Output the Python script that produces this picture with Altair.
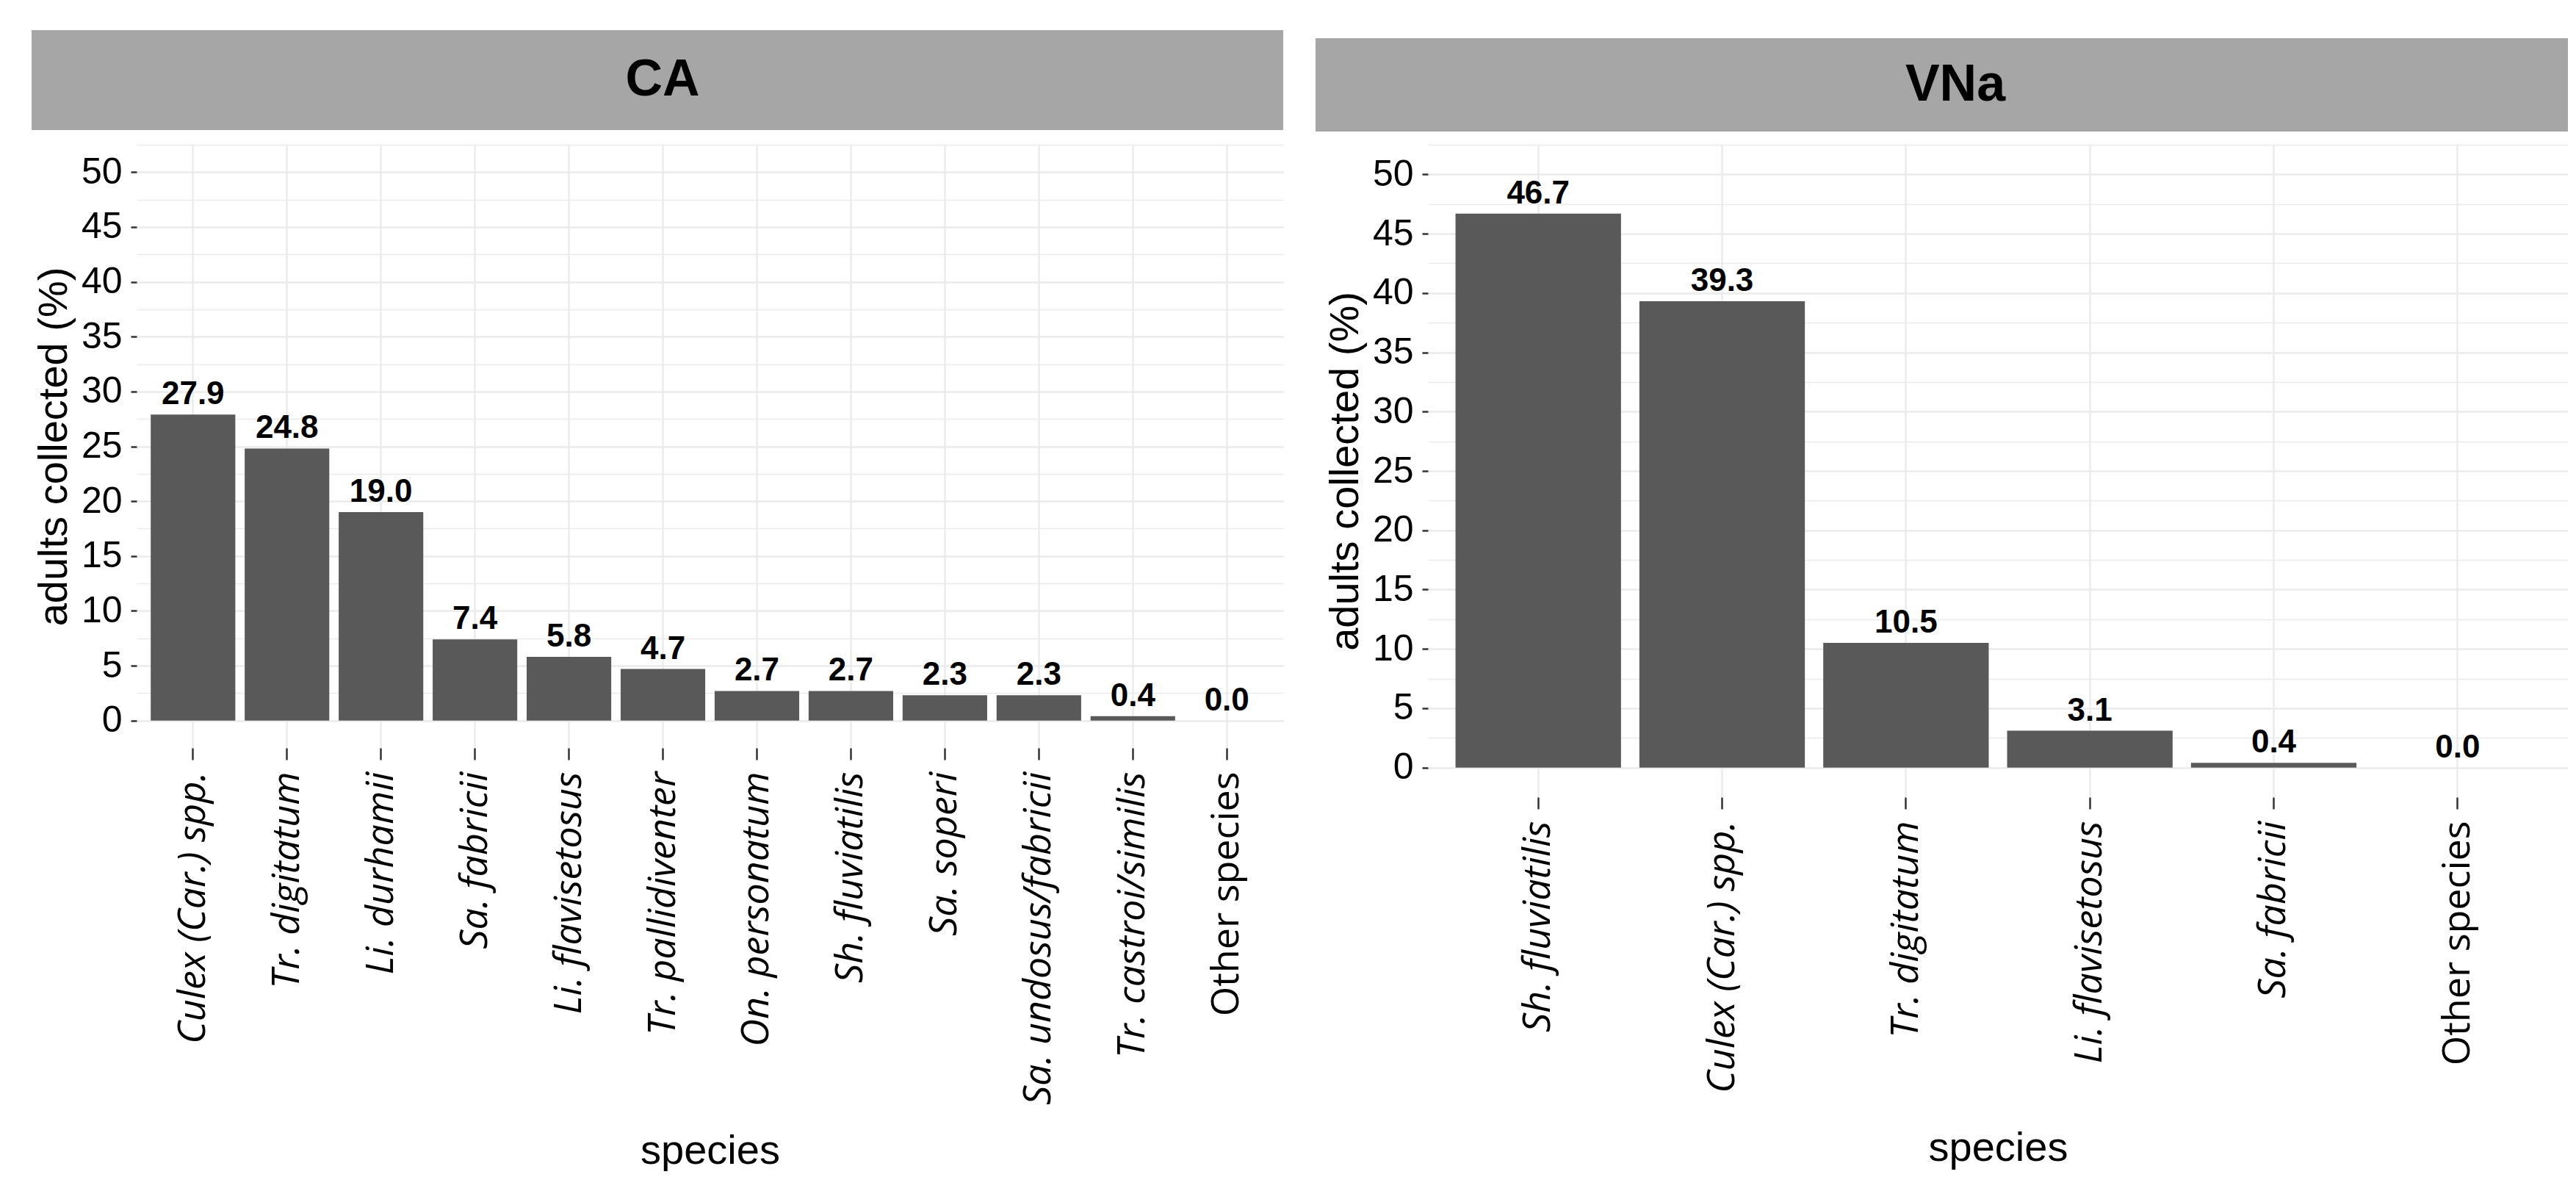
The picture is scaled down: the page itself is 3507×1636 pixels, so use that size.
import altair as alt
import pandas as pd

# ---- data ----
panel_names = ["CA", "VNa"]

ca_species = ["Culex (Car.) spp.", "Tr. digitatum", "Li. durhamii", "Sa. fabricii",
              "Li. flavisetosus", "Tr. pallidiventer", "On. personatum", "Sh. fluviatilis",
              "Sa. soperi", "Sa. undosus/fabricii", "Tr. castroi/similis", "Other species"]
ca_values = [27.9, 24.8, 19.0, 7.4, 5.8, 4.7, 2.7, 2.7, 2.3, 2.3, 0.4, 0.0]

vna_species = ["Sh. fluviatilis", "Culex (Car.) spp.", "Tr. digitatum",
               "Li. flavisetosus", "Sa. fabricii", "Other species"]
vna_values = [46.7, 39.3, 10.5, 3.1, 0.4, 0.0]

y_grid_values = [0, 2.5, 5, 7.5, 10, 12.5, 15, 17.5, 20, 22.5, 25, 27.5, 30, 32.5,
                 35, 37.5, 40, 42.5, 45, 47.5, 50, 52.5]

REGULAR = "Liberation Sans, Arial, sans-serif"
LABELF = "Open Sans, Noto Sans, sans-serif"

MAJOR = "datum.value % 5 === 0"


def panel(name, species, values, width, height, hx0, hy0, hy1, hcx, hcy, title_y):
    df = pd.DataFrame({"species": species, "pct": values})
    hdr = pd.DataFrame({"panel": [name]})

    x = alt.X(
        "species:N",
        sort=species,
        scale=alt.Scale(paddingInner=0.1, paddingOuter=0.15),
        axis=alt.Axis(
            title="species",
            titleFont=REGULAR,
            titleFontSize=56,
            titleFontWeight="normal",
            titleColor="black",
            titleY=title_y,
            titleBaseline="alphabetic",
            labelAngle=-90,
            labelFont=LABELF,
            labelFontSize=52,
            labelColor="black",
            labelFontStyle={"condition": {"test": "datum.value === 'Other species'",
                                          "value": "normal"}, "value": "italic"},
            labelPadding=16,
            labelLimit=1000,
            labelOverlap=False,
            tickSize=16,
            tickWidth=2.5,
            tickColor="#333333",
            bandPosition=0.5,
            domain=False,
            grid=True,
            gridColor="#EBEBEB",
            gridWidth=2.5,
        ),
    )
    y = alt.Y(
        "pct:Q",
        scale=alt.Scale(domain=[-2.5, 52.5], nice=False, zero=False),
        axis=alt.Axis(
            title="adults collected (%)",
            titleFont=REGULAR,
            titleFontSize=56,
            titleFontWeight="normal",
            titleColor="black",
            titlePadding=8,
            values=y_grid_values,
            labelExpr=MAJOR + " ? format(datum.value, 'd') : ''",
            labelFont=REGULAR,
            labelFontSize=50,
            labelColor="black",
            labelPadding=12,
            tickSize=8,
            tickWidth=2.5,
            tickColor="#333333",
            tickOpacity={"condition": {"test": MAJOR, "value": 1}, "value": 0},
            domain=False,
            grid=True,
            gridColor="#EBEBEB",
            gridWidth={"condition": {"test": MAJOR, "value": 2.5}, "value": 1.5},
        ),
    )

    base = alt.Chart(df).encode(x=x, y=y)
    bars = base.mark_bar(color="#595959").encode(y2=alt.Y2Datum(0))
    labels = base.mark_text(
        font=REGULAR, fontWeight="bold", fontSize=44, color="black",
        baseline="alphabetic", dy=-14
    ).encode(text=alt.Text("pct:Q", format=".1f"))

    rect = alt.Chart(hdr).mark_rect(color="#A6A6A6").encode(
        x=alt.value(hx0), x2=alt.value(width), y=alt.value(hy0), y2=alt.value(hy1)
    )
    htext = alt.Chart(hdr).mark_text(
        font=REGULAR, fontWeight="bold", fontSize=70, color="black",
        baseline="middle", align="center"
    ).encode(x=alt.value(hcx), y=alt.value(hcy), text="panel:N")

    return alt.layer(rect, htext, bars, labels).properties(width=width, height=height)


left = panel(panel_names[0], ca_species, ca_values, 1561, 821, -143, -156, -20, 716, -88, 565)
right = panel(panel_names[1], vna_species, vna_values, 1552, 888, -153, -145, -18, 718, -81, 494)

chart = (
    alt.hconcat(left, right, spacing=44)
    .properties(padding={"left": 35, "top": 33, "right": 0, "bottom": 0}, background="white")
    .configure_view(stroke=None)
)

chart.save("out.html", embed_options={"renderer": "svg", "actions": False})
